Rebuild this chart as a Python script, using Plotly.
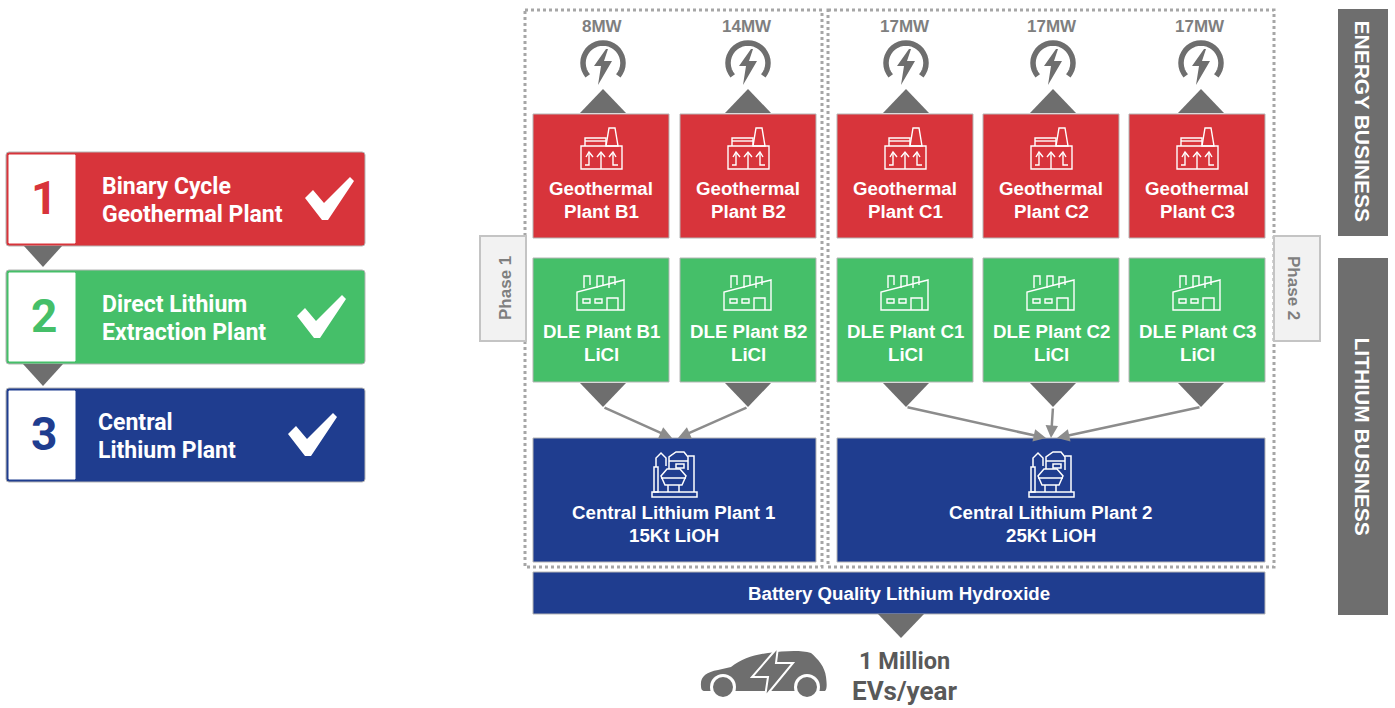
import math

import plotly.graph_objects as go

RED = "#d8343b"
GREEN = "#45bf69"
BLUE = "#1f3d8f"
GREY = "#6e6e6e"
TEXT_GREY = "#7f7f7f"
EDGE = "#b5b5b5"

# left hand legend
legend_numbers = ["1", "2", "3"]
legend_lines = [
    ["Binary Cycle", "Geothermal Plant"],
    ["Direct Lithium", "Extraction Plant"],
    ["Central", "Lithium Plant"],
]
legend_colors = [RED, GREEN, BLUE]
legend_tops = [152, 270, 388]
legend_text_x = [100, 100, 96]
check_shift = [0, -8, -17]

# plant columns
plant_codes = ["B1", "B2", "C1", "C2", "C3"]
plant_lefts = [533, 680, 837, 983, 1129]
power_labels = ["8MW", "14MW", "17MW", "17MW", "17MW"]
gauge_centers = [603, 748, 906, 1053, 1201]

central_labels = [["Central Lithium Plant 1", "15Kt LiOH"], ["Central Lithium Plant 2", "25Kt LiOH"]]
central_spans = [(533, 816), (837, 1265)]
central_icon_x = [674, 1051]
phase_labels = ["Phase 1", "Phase 2"]
side_labels = ["ENERGY BUSINESS", "LITHIUM BUSINESS"]
side_spans = [(9, 236), (258, 615)]
bottom_bar = "Battery Quality Lithium Hydroxide"
bottom_lines = ["1 Million", "EVs/year"]

shapes = []
annotations = []


def box(x0, y0, x1, y1, fill, line=EDGE, width=1):
    shapes.append(dict(type="rect", x0=x0, y0=y0, x1=x1, y1=y1, fillcolor=fill,
                       line=dict(color=line, width=width)))


def path(points, fill=None, line=None, width=0, close=True):
    d = "M " + " L ".join(f"{x},{y}" for x, y in points) + (" Z" if close else "")
    shapes.append(dict(type="path", path=d, fillcolor=fill or "rgba(0,0,0,0)",
                       line=dict(color=line or "rgba(0,0,0,0)", width=width)))


def rounded(x0, y0, x1, y1, r, fill):
    d = (f"M {x0+r},{y0} L {x1-r},{y0} Q {x1},{y0} {x1},{y0+r} L {x1},{y1-r} Q {x1},{y1} {x1-r},{y1} "
         f"L {x0+r},{y1} Q {x0},{y1} {x0},{y1-r} L {x0},{y0+r} Q {x0},{y0} {x0+r},{y0} Z")
    shapes.append(dict(type="path", path=d, fillcolor=fill, line=dict(color=EDGE, width=1)))


def text(x, y, s, size, color="white", anchor="center", angle=0, font="Liberation Sans"):
    annotations.append(dict(x=x, y=y, text=f"<b>{s}</b>", showarrow=False, xanchor=anchor, yanchor="middle",
                            textangle=angle, font=dict(size=size, color=color, family=font)))


def triangle(cx, y_base, y_tip, half=23, color=GREY):
    path([(cx - half, y_base), (cx + half, y_base), (cx, y_tip)], fill=color)


def gauge(cx, cy):
    arc = []
    for deg in range(-40, 221, 10):
        a = math.radians(deg)
        arc.append((round(cx + 20 * math.cos(a), 1), round(cy - 20 * math.sin(a), 1)))
    path(arc, line=GREY, width=5.5, close=False)
    path([(cx + 3, cy - 14), (cx - 9, cy + 3), (cx - 2, cy + 3), (cx - 5, cy + 22), (cx + 9, cy - 2),
          (cx + 1, cy - 2), (cx + 5, cy - 14)], fill=GREY)


def geo_icon(cx):
    w = "white"
    path([(cx - 20, 146), (cx + 21, 146), (cx + 21, 169), (cx - 20, 169)], line=w, width=1.4)
    path([(cx + 5, 146), (cx + 8, 128), (cx + 14, 128), (cx + 17, 146)], line=w, width=1.4)
    path([(cx - 16, 146), (cx - 16, 138), (cx + 5, 138), (cx + 5, 146)], line=w, width=1.4, close=False)
    path([(cx - 16, 141), (cx + 5, 141)], line=w, width=1.4, close=False)
    path([(cx, 169), (cx, 153)], line=w, width=1.4, close=False)
    path([(cx - 4, 157), (cx, 152), (cx + 4, 157)], line=w, width=1.4, close=False)
    path([(cx - 16, 165), (cx - 12, 165), (cx - 12, 153)], line=w, width=1.4, close=False)
    path([(cx - 15, 157), (cx - 12, 152), (cx - 8, 157)], line=w, width=1.4, close=False)
    path([(cx + 17, 165), (cx + 12, 165), (cx + 12, 153)], line=w, width=1.4, close=False)
    path([(cx + 8, 157), (cx + 12, 152), (cx + 15, 157)], line=w, width=1.4, close=False)


def dle_icon(cx):
    w = "white"
    path([(cx - 24, 310), (cx - 24, 292), (cx + 23, 280), (cx + 23, 310)], line=w, width=1.4)
    for a, b, top in [(-17, -11, 276), (-4, 2, 276), (8, 14, 277)]:
        path([(cx + a, 288), (cx + a, top), (cx + b, top), (cx + b, 285)], line=w, width=1.4, close=False)
    for a in [-18, -6]:
        path([(cx + a, 299), (cx + a + 7, 299), (cx + a + 7, 303), (cx + a, 303)], line=w, width=1.4)
    path([(cx + 6, 310), (cx + 6, 298), (cx + 17, 298), (cx + 17, 310)], line=w, width=1.4, close=False)


def central_icon(cx):
    w = "white"
    path([(cx - 22, 492), (cx + 23, 492), (cx + 23, 497), (cx - 22, 497)], line=w, width=1.5)
    path([(cx - 20, 492), (cx - 20, 467), (cx - 16, 467), (cx - 16, 492)], line=w, width=1.5)
    path([(cx - 18, 467), (cx - 18, 458), (cx - 13, 453), (cx - 8, 458), (cx - 8, 466)], line=w, width=1.5, close=False)
    path([(cx - 13, 476), (cx - 7, 469), (cx + 6, 469), (cx + 12, 476), (cx + 8, 485), (cx - 9, 485)], line=w, width=1.5)
    path([(cx - 13, 478), (cx + 12, 478)], line=w, width=1.5, close=False)
    path([(cx - 6, 485), (cx - 6, 492)], line=w, width=1.5, close=False)
    path([(cx + 5, 485), (cx + 5, 492)], line=w, width=1.5, close=False)
    path([(cx - 5, 469), (cx - 5, 457), (cx + 2, 452), (cx + 10, 452), (cx + 14, 457), (cx + 14, 470)], line=w, width=1.5, close=False)
    path([(cx - 5, 461), (cx + 14, 461)], line=w, width=1.5, close=False)
    path([(cx + 14, 456), (cx + 20, 456), (cx + 20, 492)], line=w, width=1.5, close=False)
    path([(cx + 2, 464), (cx + 10, 464), (cx + 10, 468), (cx + 2, 468)], line=w, width=1.5)


# legend boxes
for num, lines, color, top, tx, shift in zip(legend_numbers, legend_lines, legend_colors, legend_tops,
                                              legend_text_x, check_shift):
    rounded(6, top, 365, top + 94, 3, color)
    box(9, top + 3, 75, top + 91, "white", line="white")
    text(44, top + 46, num, 46, color=color, font="Roboto")
    text(tx, top + 34, lines[0], 23, anchor="left", font="Roboto")
    text(tx, top + 62, lines[1], 23, anchor="left", font="Roboto")
    path([(305 + shift, top + 46), (313 + shift, top + 38), (324 + shift, top + 51), (350 + shift, top + 25),
          (354 + shift, top + 29), (328 + shift, top + 68), (322 + shift, top + 68)], fill="white")
triangle(43, 246, 267, half=19)
triangle(43, 364, 386, half=20)

# dotted phase frames
for x0, x1 in [(525, 822), (828, 1274)]:
    shapes.append(dict(type="rect", x0=x0, y0=10, x1=x1, y1=567,
                       line=dict(color="#a6a6a6", width=3, dash="dot")))

# phase tabs
box(480, 236, 526, 341, "#f2f2f2", line="#c4c4c4", width=2)
box(1274, 236, 1320, 341, "#f2f2f2", line="#c4c4c4", width=2)
text(505, 288, phase_labels[0], 17, color=TEXT_GREY, angle=-90)
text(1294, 288, phase_labels[1], 17, color=TEXT_GREY, angle=90)

# plant columns
for code, left, mw, gx in zip(plant_codes, plant_lefts, power_labels, gauge_centers):
    mid = left + 68
    box(left, 114, left + 136, 238, RED)
    box(left, 258, left + 136, 382, GREEN)
    text(gx - 1, 26, mw, 17, color=TEXT_GREY)
    gauge(gx, 63)
    triangle(gx, 113, 89)
    triangle(gx, 383, 407)
    geo_icon(mid)
    dle_icon(mid)
    text(mid, 188, "Geothermal", 18.7)
    text(mid, 211, f"Plant {code}", 18.7)
    text(mid, 331, f"DLE Plant {code}", 18.7)
    text(mid, 354, "LiCl", 18.7)

# arrows down to the central plants
for gx, end in [(603, 672), (748, 678), (906, 1046), (1053, 1051), (1201, 1057)]:
    annotations.append(dict(x=end, y=438, ax=gx, ay=407, xref="x", yref="y", axref="x", ayref="y", text="",
                            showarrow=True, arrowhead=2, arrowsize=1, arrowwidth=2.5, arrowcolor="#8c8c8c"))

# central plants
for lines, (x0, x1), ix in zip(central_labels, central_spans, central_icon_x):
    box(x0, 438, x1, 562, BLUE)
    central_icon(ix)
    text(ix, 512, lines[0], 18.7)
    text(ix, 535, lines[1], 18.7)

box(533, 572, 1265, 614, BLUE)
text(899, 593, bottom_bar, 18.7)
triangle(901, 614, 638)

# side bars
for label, (y0, y1) in zip(side_labels, side_spans):
    shapes.append(dict(type="rect", x0=1338, y0=y0, x1=1388, y1=y1, fillcolor=GREY, line=dict(width=0)))
    text(1362, (y0 + y1) / 2 - (1 if y0 < 100 else 0), label, 21, angle=90)

# car
shapes.append(dict(type="path", fillcolor=GREY, line=dict(width=0),
                   path="M 701,686 C 700,677 706,672 718,670 L 731,667 C 742,659 752,655 768,653 "
                        "C 785,651 800,650 811,653 C 818,659 825,667 826,677 C 827,685 827,689 825,691 "
                        "L 705,691 C 702,691 701,689 701,686 Z"))
for wx in [723, 807]:
    shapes.append(dict(type="circle", x0=wx - 13, y0=674, x1=wx + 13, y1=700, fillcolor="white", line=dict(width=0)))
    shapes.append(dict(type="circle", x0=wx - 10, y0=677, x1=wx + 10, y1=697, fillcolor=GREY, line=dict(width=0)))
path([(778, 647), (752, 677), (768, 677), (765, 697), (793, 663), (776, 663)], fill=GREY, line="white", width=2)
text(904, 661, bottom_lines[0], 23.5, color="#595959", font="Roboto")
text(904, 691, bottom_lines[1], 26, color="#595959", font="Roboto")

fig = go.Figure(go.Scatter(x=[0, 1395], y=[0, 708], mode="none", hoverinfo="skip", showlegend=False))
fig.update_layout(
    width=1395,
    height=708,
    margin=dict(l=0, r=0, t=0, b=0),
    paper_bgcolor="white",
    plot_bgcolor="white",
    shapes=shapes,
    annotations=annotations,
    xaxis=dict(range=[0, 1395], visible=False, fixedrange=True),
    yaxis=dict(range=[708, 0], visible=False, fixedrange=True),
)
fig.write_html("out.html", config=dict(displayModeBar=False),
               post_script="document.body.style.margin = '0'; document.body.style.overflow = 'hidden';")
